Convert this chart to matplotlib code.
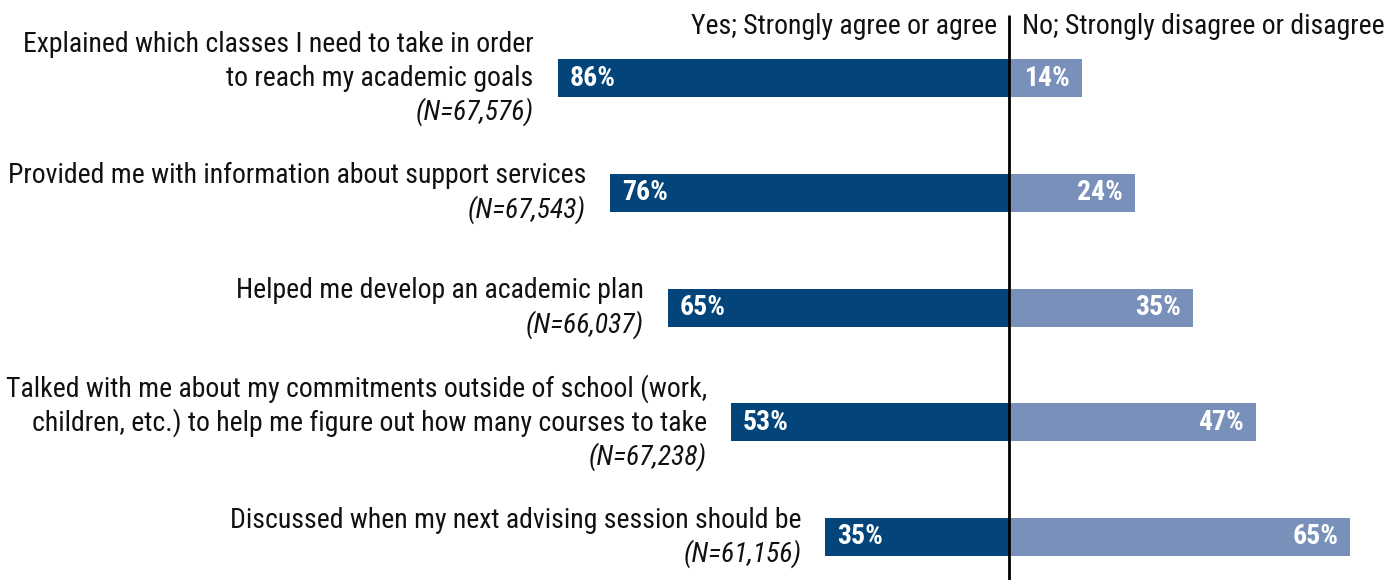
import matplotlib
matplotlib.use("Agg")
import matplotlib.pyplot as plt
from matplotlib import font_manager as fm

questions = [
    "Explained which classes I need to take in order\nto reach my academic goals",
    "Provided me with information about support services",
    "Helped me develop an academic plan",
    "Talked with me about my commitments outside of school (work,\nchildren, etc.) to help me figure out how many courses to take",
    "Discussed when my next advising session should be",
]
n_labels = ["(N=67,576)", "(N=67,543)", "(N=66,037)", "(N=67,238)", "(N=61,156)"]
yes_pct = [86, 76, 65, 53, 35]
no_pct = [14, 24, 35, 47, 65]
header_yes = "Yes; Strongly agree or agree"
header_no = "No; Strongly disagree or disagree"

# ---- pick a condensed font if one is installed ----
entries = fm.fontManager.ttflist
cond = []
for f in entries:
    nm = f.name.lower()
    fn = f.fname.lower()
    st = str(f.stretch).lower()
    if "narrow" in nm or "condensed" in nm or "condensed" in st or "narrow" in fn or "condensed" in fn:
        if "extra" in st or "ultra" in st or "extra" in fn or "ultra" in fn:
            continue
        cond.append(f)

pref = ["liberation sans narrow", "roboto condensed", "open sans condensed", "noto sans", "dejavu sans", "roboto", "open sans"]
chosen = None
for p in pref:
    for f in cond:
        if f.name.lower() == p or f.name.lower().startswith(p):
            chosen = f
            break
    if chosen:
        break
if chosen is None and cond:
    chosen = cond[0]

if chosen is not None:
    FAM = chosen.name
    STRETCH = chosen.stretch
    SCALE = 1.0
else:
    FAM = "Liberation Sans"
    STRETCH = "normal"
    SCALE = 0.83

plt.rcParams["font.family"] = [FAM, "DejaVu Sans"]


def fp(size, weight="normal", style="normal"):
    return fm.FontProperties(family=[FAM, "DejaVu Sans"], stretch=STRETCH,
                             weight=weight, style=style, size=size)


DARK = "#03457A"
LIGHT = "#7890BA"

W, H = 1388, 580
fig = plt.figure(figsize=(W / 100, H / 100), dpi=100)
ax = fig.add_axes([0, 0, 1, 1])
pxpp = 5.25          # pixels per percent
center_px = 1009
ax.set_xlim(-center_px / pxpp, (W - center_px) / pxpp)
row_px = 114.75
first_px = 78
ax.set_ylim((H - first_px) / row_px, -first_px / row_px)
ax.axis("off")

bh = 38 / row_px
ys = list(range(len(questions)))
ax.barh(ys, [-v for v in yes_pct], height=bh, color=DARK, linewidth=0)
ax.barh(ys, no_pct, height=bh, color=LIGHT, linewidth=0)

pad = 12 / pxpp
gap = 24 / pxpp
line_px = 34 / row_px
fs = 20 * SCALE
for i, y in enumerate(ys):
    ax.text(-yes_pct[i] + pad, y, f"{yes_pct[i]}%", color="white",
            fontproperties=fp(fs, "bold"), ha="left", va="center")
    ax.text(no_pct[i] - pad, y, f"{no_pct[i]}%", color="white",
            fontproperties=fp(fs, "bold"), ha="right", va="center")
    lines = questions[i].split("\n") + [n_labels[i]]
    k = len(lines)
    for j, ln in enumerate(lines):
        yy = y + (j - (k - 1) / 2) * line_px
        ax.text(-yes_pct[i] - gap, yy, ln, ha="right", va="center", color="#111111",
                fontproperties=fp(fs, "normal", "italic" if j == k - 1 else "normal"))

top_y = -first_px / row_px
ax.plot([0, 0], [top_y + 15 / row_px, (H - first_px) / row_px], color="black", lw=2,
        solid_capstyle="butt")
hy = top_y + 26 / row_px
ax.text(-12 / pxpp, hy, header_yes, fontproperties=fp(fs), ha="right", va="center", color="#111111")
ax.text(13 / pxpp, hy, header_no, fontproperties=fp(fs), ha="left", va="center", color="#111111")

fig.savefig("out.png", dpi=100)
